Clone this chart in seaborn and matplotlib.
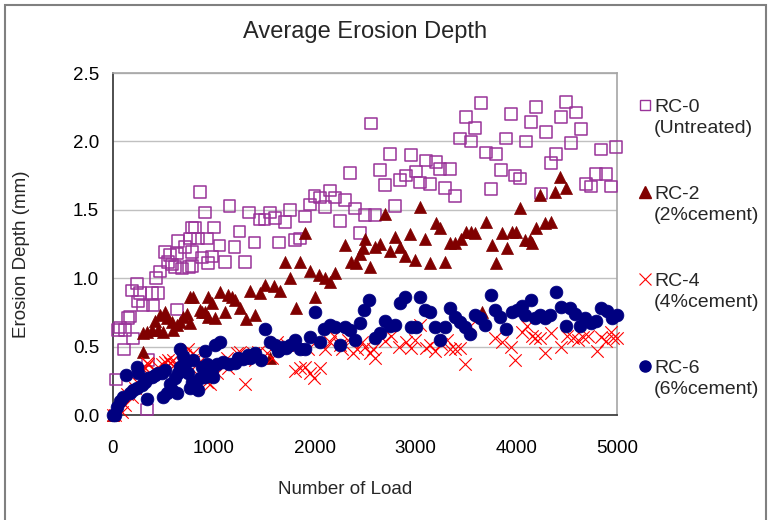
import numpy as np
import pandas as pd
import matplotlib
matplotlib.use("Agg")
import matplotlib.pyplot as plt
from matplotlib.lines import Line2D
from matplotlib.patches import Rectangle
from matplotlib.ticker import FormatStrFormatter
import seaborn as sns

# ---------------------------------------------------------------- data
labels = ["RC-0\n(Untreated)", "RC-2\n(2%cement)", "RC-4\n(4%cement)", "RC-6\n(6%cement)"]

rc0_load = [30, 50, 69, 109, 119, 149, 169, 188, 198, 238, 248, 268, 298, 337, 347, 387, 397, 427,
            446, 466, 516, 546, 565, 585, 615, 635, 635, 645, 684, 714, 754, 764, 784, 784, 784, 813,
            843, 863, 883, 913, 932, 942, 982, 1002, 1056, 1111, 1156, 1205, 1255, 1310, 1349, 1404,
            1453, 1503, 1557, 1607, 1647, 1706, 1756, 1805, 1855, 1905, 1954, 2000, 2053, 2103, 2153,
            2202, 2252, 2301, 2351, 2400, 2450, 2500, 2560, 2599, 2649, 2698, 2748, 2797, 2847, 2907,
            2956, 3006, 3045, 3105, 3145, 3204, 3244, 3293, 3343, 3392, 3442, 3502, 3551, 3591, 3650,
            3700, 3750, 3799, 3849, 3898, 3948, 3988, 4037, 4097, 4147, 4196, 4246, 4295, 4345, 4395,
            4444, 4494, 4543, 4593, 4643, 4692, 4742, 4791, 4841, 4890, 4940, 4990]
rc0_depth = [0.26, 0.62, 0.64, 0.48, 0.62, 0.71, 0.72, 0.91, 0.56, 0.96, 0.83, 0.89, 0.80, 0.04, 0.40,
             0.89, 0.80, 1.00, 0.89, 1.05, 1.19, 1.12, 1.17, 1.10, 1.08, 1.18, 0.77, 1.27, 1.07, 1.23,
             1.08, 1.29, 1.37, 1.19, 1.09, 1.37, 1.29, 1.63, 1.15, 1.48, 1.29, 1.11, 1.16, 1.37, 1.24,
             1.12, 1.53, 1.23, 1.34, 1.12, 1.48, 1.26, 1.43, 1.43, 1.48, 1.44, 1.26, 1.41, 1.50, 1.28,
             1.29, 1.45, 1.54, 1.60, 1.59, 1.52, 1.64, 1.59, 1.42, 1.57, 1.77, 1.51, 1.33, 1.46, 2.13,
             1.46, 1.79, 1.68, 1.91, 1.53, 1.72, 1.75, 1.90, 1.78, 1.70, 1.86, 1.69, 1.85, 1.80, 1.66,
             1.80, 1.60, 2.02, 2.18, 2.00, 2.10, 2.28, 1.92, 1.65, 1.91, 1.79, 2.02, 2.20, 1.75, 1.73,
             2.00, 2.14, 2.25, 1.62, 2.07, 1.84, 1.91, 2.18, 2.29, 1.99, 2.21, 2.09, 1.69, 1.67, 1.76,
             1.94, 1.76, 1.67, 1.96]

rc2_load = [0, 293, 298, 337, 387, 417, 446, 466, 496, 516, 536, 585, 595, 635, 665, 694, 734, 764, 764,
            794, 863, 883, 913, 942, 942, 982, 1012, 1061, 1111, 1141, 1185, 1210, 1260, 1320, 1359,
            1409, 1458, 1508, 1557, 1597, 1657, 1706, 1756, 1815, 1855, 1905, 1954, 2004, 2043, 2103,
            2153, 2202, 2301, 2361, 2410, 2450, 2480, 2500, 2550, 2599, 2649, 2698, 2748, 2797, 2847,
            2897, 2946, 2996, 3045, 3095, 3145, 3204, 3244, 3293, 3343, 3392, 3452, 3502, 3551, 3591,
            3660, 3700, 3760, 3799, 3859, 3908, 3958, 3998, 4037, 4092, 4137, 4157, 4196, 4236, 4285,
            4345, 4385, 4439, 4494]
rc2_depth = [0.00, 0.60, 0.46, 0.61, 0.62, 0.69, 0.62, 0.73, 0.61, 0.75, 0.71, 0.68, 0.62, 0.66, 0.68,
             0.72, 0.74, 0.86, 0.67, 0.86, 0.77, 0.75, 0.75, 0.72, 0.86, 0.82, 0.71, 0.90, 0.75, 0.88,
             0.86, 0.84, 0.78, 0.70, 0.91, 0.73, 0.89, 0.95, 0.42, 0.94, 0.91, 1.12, 1.00, 0.78, 1.12,
             1.33, 1.05, 0.86, 1.02, 1.00, 0.97, 1.04, 1.24, 1.12, 1.11, 1.18, 1.22, 1.29, 1.08, 1.23,
             1.25, 1.47, 1.20, 1.30, 1.23, 1.16, 1.32, 1.13, 1.52, 1.29, 1.11, 1.40, 1.37, 1.12, 1.26,
             1.26, 1.29, 1.34, 1.34, 1.33, 0.75, 1.41, 1.24, 1.11, 1.33, 1.22, 1.34, 1.34, 1.51, 1.28,
             1.28, 1.26, 1.37, 1.61, 1.40, 1.41, 1.63, 1.74, 1.66]

rc4_load = [0, 20, 89, 119, 139, 188, 218, 238, 268, 288, 317, 337, 347, 367, 417, 446, 486, 516, 546,
            565, 595, 615, 645, 684, 714, 744, 784, 794, 833, 843, 863, 932, 962, 1032, 1131, 1141,
            1230, 1260, 1280, 1310, 1389, 1409, 1438, 1528, 1577, 1627, 1657, 1726, 1805, 1855, 1905,
            1934, 1954, 1994, 2053, 2103, 2153, 2192, 2252, 2272, 2331, 2381, 2420, 2470, 2500, 2550,
            2579, 2599, 2698, 2758, 2837, 2907, 2956, 2996, 3045, 3105, 3145, 3194, 3254, 3313, 3343,
            3392, 3442, 3492, 3541, 3790, 3859, 3948, 3988, 4057, 4107, 4157, 4186, 4236, 4285, 4345,
            4444, 4504, 4563, 4613, 4663, 4712, 4801, 4841, 4890, 4940, 4960, 5000]
rc4_depth = [0.00, 0.00, 0.02, 0.07, 0.15, 0.13, 0.20, 0.24, 0.31, 0.34, 0.34, 0.38, 0.37, 0.31, 0.33,
             0.35, 0.37, 0.39, 0.40, 0.38, 0.40, 0.37, 0.35, 0.42, 0.44, 0.48, 0.40, 0.45, 0.42, 0.38,
             0.28, 0.24, 0.23, 0.31, 0.42, 0.34, 0.45, 0.46, 0.42, 0.23, 0.45, 0.40, 0.46, 0.45, 0.42,
             0.53, 0.50, 0.51, 0.32, 0.34, 0.35, 0.48, 0.31, 0.27, 0.34, 0.48, 0.53, 0.58, 0.51, 0.48,
             0.55, 0.45, 0.48, 0.53, 0.50, 0.45, 0.48, 0.42, 0.54, 0.58, 0.50, 0.53, 0.49, 0.55, 0.66,
             0.49, 0.51, 0.47, 0.52, 0.55, 0.48, 0.48, 0.49, 0.37, 0.65, 0.56, 0.53, 0.50, 0.40, 0.61,
             0.65, 0.58, 0.56, 0.56, 0.45, 0.60, 0.50, 0.58, 0.56, 0.55, 0.57, 0.58, 0.47, 0.57, 0.54,
             0.61, 0.56, 0.56]

rc6_load = [0, 20, 40, 69, 99, 129, 169, 198, 238, 238, 248, 288, 317, 337, 347, 387, 417, 446, 486,
            496, 516, 536, 565, 585, 615, 635, 645, 665, 665, 694, 714, 744, 764, 784, 794, 813, 843,
            863, 883, 913, 913, 932, 982, 992, 1012, 1032, 1061, 1091, 1151, 1210, 1240, 1290, 1339,
            1359, 1409, 1468, 1508, 1557, 1607, 1637, 1657, 1687, 1716, 1756, 1805, 1855, 1905, 1954,
            2004, 2053, 2093, 2153, 2202, 2252, 2301, 2351, 2400, 2450, 2490, 2540, 2599, 2649, 2698,
            2748, 2797, 2847, 2897, 2956, 3006, 3045, 3095, 3145, 3194, 3244, 3293, 3343, 3392, 3442,
            3492, 3541, 3591, 3640, 3690, 3750, 3790, 3839, 3899, 3958, 4008, 4057, 4087, 4147, 4186,
            4236, 4285, 4335, 4395, 4444, 4494, 4533, 4583, 4633, 4682, 4742, 4791, 4841, 4900, 4950,
            5000]
rc6_depth = [0.00, 0.00, 0.06, 0.10, 0.13, 0.29, 0.16, 0.18, 0.20, 0.35, 0.31, 0.22, 0.24, 0.12, 0.27,
             0.28, 0.29, 0.31, 0.31, 0.13, 0.33, 0.16, 0.23, 0.18, 0.27, 0.16, 0.31, 0.48, 0.35, 0.43,
             0.37, 0.31, 0.20, 0.24, 0.40, 0.22, 0.18, 0.27, 0.35, 0.47, 0.28, 0.37, 0.33, 0.28, 0.51,
             0.37, 0.53, 0.39, 0.37, 0.38, 0.42, 0.41, 0.44, 0.42, 0.45, 0.40, 0.63, 0.53, 0.51, 0.47,
             0.48, 0.50, 0.49, 0.51, 0.55, 0.48, 0.48, 0.57, 0.75, 0.53, 0.63, 0.66, 0.64, 0.51, 0.64,
             0.62, 0.55, 0.67, 0.77, 0.84, 0.56, 0.60, 0.69, 0.65, 0.66, 0.82, 0.86, 0.64, 0.64, 0.86,
             0.77, 0.75, 0.64, 0.55, 0.64, 0.78, 0.72, 0.68, 0.64, 0.59, 0.73, 0.71, 0.66, 0.88, 0.77,
             0.72, 0.63, 0.75, 0.77, 0.80, 0.73, 0.84, 0.71, 0.73, 0.71, 0.73, 0.90, 0.79, 0.65, 0.78,
             0.74, 0.65, 0.71, 0.67, 0.69, 0.78, 0.76, 0.71, 0.73]

x_ticks = [0, 1000, 2000, 3000, 4000, 5000]
y_ticks = [0.0, 0.5, 1.0, 1.5, 2.0, 2.5]

PURPLE = "#993399"
DARKRED = "#800000"
RED = "#ff0000"
NAVY = "#000080"

# ---------------------------------------------------------------- style
sns.set_style("white")
plt.rcParams["font.family"] = ["Liberation Sans", "DejaVu Sans"]

W, H = 769, 520
fig = plt.figure(figsize=(W / 100, H / 100), dpi=100)
ax = fig.add_axes([113 / W, 1 - 415 / H, 504 / W, 342 / H])

series = [
    (rc0_load, rc0_depth, dict(marker="s", s=70, facecolor="none", edgecolor=PURPLE, linewidth=1.1)),
    (rc2_load, rc2_depth, dict(marker="^", s=75, color=DARKRED, edgecolor=DARKRED, linewidth=0.5)),
    (rc4_load, rc4_depth, dict(marker="x", s=80, color=RED, linewidth=0.8)),
    (rc6_load, rc6_depth, dict(marker="o", s=85, color=NAVY, edgecolor=NAVY, linewidth=0.5)),
]
for xs, ys, kw in series:
    df = pd.DataFrame({"Number of Load": xs, "Erosion Depth (mm)": ys})
    sns.scatterplot(data=df, x="Number of Load", y="Erosion Depth (mm)", ax=ax,
                    legend=False, clip_on=False, zorder=3, **kw)

ax.set_xlim(0, 5000)
ax.set_ylim(0, 2.5)
ax.set_xticks(x_ticks)
ax.set_yticks(y_ticks)
ax.yaxis.set_major_formatter(FormatStrFormatter("%.1f"))
ax.set_axisbelow(True)
ax.yaxis.grid(True, color="#c0c0c0", linewidth=1.0)
ax.xaxis.grid(False)

for side in ("left", "bottom"):
    ax.spines[side].set_color("#404040")
    ax.spines[side].set_linewidth(1.3)
for side in ("top", "right"):
    ax.spines[side].set_color("#a6a6a6")
    ax.spines[side].set_linewidth(1.2)

ax.tick_params(axis="both", direction="out", length=4, width=1.0, color="#404040",
               labelsize=13.5, labelcolor="black")
ax.tick_params(axis="y", pad=6)
ax.tick_params(axis="x", pad=14)

ax.set_xlabel("Number of Load", fontsize=13.5)
ax.set_ylabel("Erosion Depth (mm)", fontsize=13.5)
ax.xaxis.set_label_coords(0.46, -(490 - 415) / 342)
ax.xaxis.label.set_va("center")
ax.yaxis.set_label_coords(-(113 - 22) / 504, 0.47)
ax.yaxis.label.set_va("center")

ax.set_title("Average Erosion Depth", fontsize=17, y=1 + (73 - 32) / 342, va="center", pad=0)

# ---------------------------------------------------------------- legend
handles = [
    Line2D([], [], ls="none", marker="s", ms=7.5, mfc="none", mec=PURPLE, mew=1.0),
    Line2D([], [], ls="none", marker="^", ms=8, mfc=DARKRED, mec=DARKRED),
    Line2D([], [], ls="none", marker="x", ms=8, mec=RED, mew=0.8),
    Line2D([], [], ls="none", marker="o", ms=8, mfc=NAVY, mec=NAVY),
]
LEG_FS = 14
leg = fig.legend(handles, labels, loc="upper left",
                 bbox_to_anchor=(637.7 / W, 1 - 99 / H), frameon=False,
                 fontsize=LEG_FS, handlelength=0.8, handletextpad=0.05,
                 labelspacing=2.5, borderpad=0, borderaxespad=0, numpoints=1)
for t in leg.get_texts():
    t.set_linespacing(1.33)
# put each marker beside the first line of its two-line label
line_step_pt = 13 * 72 / 100
for h in leg.legend_handles:
    h.set_ydata(np.asarray(h.get_ydata()) + line_step_pt)

# outer chart frame
fig.add_artist(Rectangle((5 / W, -0.1), 761 / W, 1.1 - 5 / H, transform=fig.transFigure,
                         fill=False, edgecolor="#808080", linewidth=1.5))

fig.savefig("out.png", dpi=100)
